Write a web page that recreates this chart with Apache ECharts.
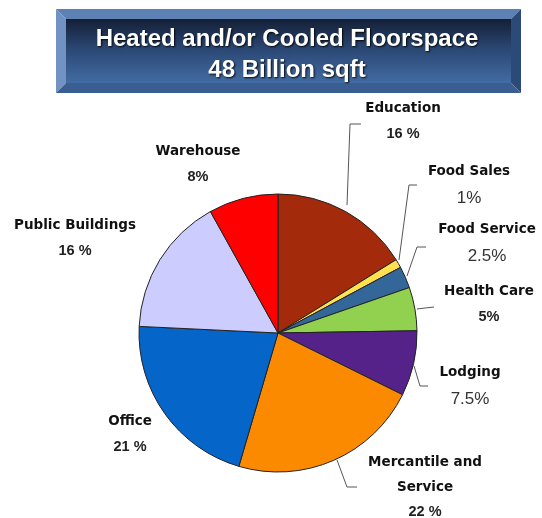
<!DOCTYPE html>
<html>
<head>
<meta charset="utf-8">
<script src="https://cdn.jsdelivr.net/npm/echarts@6/dist/echarts.min.js"></script>
<style>
html,body{margin:0;padding:0;background:#fff;}
#chart{width:542px;height:518px;}
</style>
</head>
<body>
<div id="chart"></div>
<script>
// ---- data ----
const categories = ['Education', 'Food Sales', 'Food Service', 'Health Care', 'Lodging', 'Mercantile and\nService', 'Office', 'Public Buildings', 'Warehouse'];
const values = [16, 1, 2.5, 5, 7.5, 22, 21, 16, 8];
const percentLabels = ['16 %', '1%', '2.5%', '5%', '7.5%', '22 %', '21 %', '16 %', '8%'];
const percentBold = [true, false, false, true, false, true, true, true, true];
const colors = ['#A42A0C', '#FFE14F', '#336699', '#92D050', '#55228A', '#FB8A00', '#0565C9', '#CCCCFF', '#FF0000'];
const titleLines = ['Heated and/or Cooled Floorspace', '48 Billion sqft'];

// ---- layout (label placement) ----
const labelPos = [[403,121],[469,186],[487,244],[489,304],[470,387],[425,487],[130,434],[75,238],[198,164]];
const labelLines = [
  [[347,205],[350,124],[361,124]],
  [[399,260],[409,185],[417,185]],
  [[407,276],[417,247],[426,247]],
  [[417,309],[425,308],[434,307]],
  [[414,366],[420,386],[428,386]],
  [[337,460],[347,487],[357,487]],
  null, null, null
];

const chart = echarts.init(document.getElementById('chart'));

const data = categories.map((c, i) => ({
  name: c,
  value: values[i],
  itemStyle: { color: colors[i] },
  label: {
    formatter: c.split('\n').map(s => '{n|' + s + '}').join('\n') + '\n{' + (percentBold[i] ? 'pb' : 'pn') + '|' + percentLabels[i] + '}'
  },
  labelLine: { show: !!labelLines[i] }
}));

const X0 = 56, Y0 = 9, X1 = 521, Y1 = 93, B = 10;

chart.setOption({
  animation: false,
  title: {
    text: titleLines.join('\n'),
    left: 287,
    top: 24,
    padding: 0,
    textAlign: 'center',
    textStyle: {
      color: '#ffffff',
      fontSize: 24,
      fontWeight: 'bold',
      fontFamily: 'Liberation Sans, Arial, sans-serif',
      lineHeight: 31,
      textShadowColor: 'rgba(0,0,0,0.9)',
      textShadowBlur: 2,
      textShadowOffsetX: 1,
      textShadowOffsetY: 1
    }
  },
  graphic: [
    { type: 'rect', z: 0, shape: { x: X0 + B, y: Y0 + B, width: X1 - X0 - 2 * B, height: Y1 - Y0 - 2 * B },
      style: { fill: new echarts.graphic.LinearGradient(0, 0, 0, 1, [
        { offset: 0, color: '#141f35' }, { offset: 0.45, color: '#2a4672' }, { offset: 1, color: '#426ca3' }]) } },
    { type: 'polygon', z: 0, shape: { points: [[X0, Y0], [X1, Y0], [X1 - B, Y0 + B], [X0 + B, Y0 + B]] }, style: { fill: '#5d81b2' } },
    { type: 'polygon', z: 0, shape: { points: [[X0, Y0], [X0 + B, Y0 + B], [X0 + B, Y1 - B], [X0, Y1]] }, style: { fill: '#7192c2' } },
    { type: 'polygon', z: 0, shape: { points: [[X1, Y0], [X1, Y1], [X1 - B, Y1 - B], [X1 - B, Y0 + B]] }, style: { fill: '#2b4a78' } },
    { type: 'polygon', z: 0, shape: { points: [[X0, Y1], [X1, Y1], [X1 - B, Y1 - B], [X0 + B, Y1 - B]] }, style: { fill: '#3a5e92' } }
  ],
  series: [{
    type: 'pie',
    center: [278, 333],
    radius: 139,
    startAngle: 90,
    clockwise: true,
    avoidLabelOverlap: false,
    data: data,
    itemStyle: { borderColor: '#222', borderWidth: 1 },
    emphasis: { disabled: true },
    label: {
      show: true,
      position: 'outside',
      align: 'center',
      rich: {
        n: { fontFamily: 'DejaVu Sans, sans-serif', fontWeight: 'bold', fontSize: 13.5, color: '#111', lineHeight: 25, align: 'center' },
        pb: { fontFamily: 'Liberation Sans, Arial, sans-serif', fontWeight: 'bold', fontSize: 14.5, color: '#222', lineHeight: 25, align: 'center' },
        pn: { fontFamily: 'Liberation Sans, Arial, sans-serif', fontWeight: 'normal', fontSize: 17, color: '#333', lineHeight: 30, align: 'center' }
      }
    },
    labelLine: { show: true, lineStyle: { color: '#555', width: 1 } },
    labelLayout: function (params) {
      const i = params.dataIndex;
      const r = { x: labelPos[i][0], y: labelPos[i][1], align: 'center', verticalAlign: 'middle' };
      if (labelLines[i]) r.labelLinePoints = labelLines[i];
      return r;
    }
  }]
});
</script>
</body>
</html>
